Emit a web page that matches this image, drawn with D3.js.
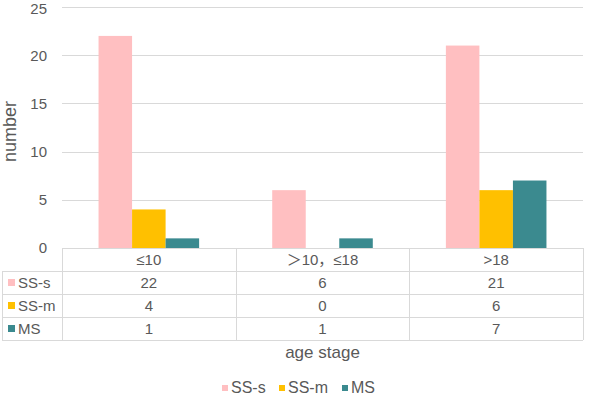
<!DOCTYPE html>
<html>
<head>
<meta charset="utf-8">
<script src="https://cdn.jsdelivr.net/npm/d3@7"></script>
<style>
  body { margin: 0; background: #fff; }
  text { font-family: "Liberation Sans", Arial, "Noto Sans CJK SC", sans-serif; fill: #595959; }
</style>
</head>
<body>
<script>
// Data
const categories = ["≤10", "＞10，≤18", ">18"]
const seriesNames = ["SS-s", "SS-m", "MS"]
const ssS = [22, 6, 21]
const ssM = [4, 0, 6]
const ms = [1, 1, 7]
const yTicks = [0, 5, 10, 15, 20, 25]
const colors = ["#FFBFC1", "#FFC000", "#3B8A8F"]

const seriesValues = [ssS, ssM, ms]

// Layout
const width = 597
const height = 396
const plotLeft = 62
const plotRight = 583
const plotTop = 7
const plotBottom = 248
const rowH = 23
const gridColor = "#d9d9d9"

let svg = d3.select("body").append("svg")
    .attr("width", width)
    .attr("height", height)

// Scales
let xScale = d3.scaleBand()
    .domain(categories)
    .range([plotLeft, plotRight])
let sub = d3.scaleBand()
    .domain(seriesNames)
    .range([0, xScale.bandwidth()])
    .paddingInner(0)
    .paddingOuter(1.09)
let yScale = d3.scaleLinear()
    .domain([0, 25])
    .range([plotBottom, plotTop])

// Gridlines
svg.append("g")
    .selectAll("line")
    .data(yTicks.filter(d => d > 0))
    .enter().append("line")
    .attr("x1", plotLeft).attr("x2", plotRight)
    .attr("y1", d => Math.round(yScale(d)) + 0.5).attr("y2", d => Math.round(yScale(d)) + 0.5)
    .attr("stroke", gridColor)
    .attr("stroke-width", 1)

// Y axis labels (top one kept inside the frame)
svg.append("g")
    .selectAll("text")
    .data(yTicks)
    .enter().append("text")
    .attr("x", 47)
    .attr("y", d => Math.max(yScale(d), 8.5))
    .attr("dy", "0.36em")
    .attr("text-anchor", "end")
    .style("font-size", "15px")
    .text(d => d)

svg.append("text")
    .attr("transform", `translate(10, ${(plotTop + plotBottom) / 2 + 4}) rotate(-90)`)
    .attr("text-anchor", "middle")
    .attr("dy", "0.35em")
    .style("font-size", "18px")
    .text("number")

// Bars
seriesNames.forEach((name, i) => {
    svg.append("g")
        .selectAll("rect")
        .data(seriesValues[i])
        .enter().append("rect")
        .attr("x", (d, j) => xScale(categories[j]) + sub(name))
        .attr("y", d => yScale(d))
        .attr("width", sub.bandwidth())
        .attr("height", d => plotBottom - yScale(d))
        .attr("fill", colors[i])
})

// Data table
const tableLeft = 2
const tableBottom = plotBottom + rowH * 4
let table = svg.append("g")

// horizontal lines
d3.range(5).forEach(r => {
    table.append("line")
        .attr("x1", r === 0 ? plotLeft : tableLeft).attr("x2", plotRight)
        .attr("y1", plotBottom + r * rowH + 0.5).attr("y2", plotBottom + r * rowH + 0.5)
        .attr("stroke", gridColor)
})
// vertical lines
table.append("line")
    .attr("x1", tableLeft + 0.5).attr("x2", tableLeft + 0.5)
    .attr("y1", plotBottom + rowH).attr("y2", tableBottom)
    .attr("stroke", gridColor)
categories.forEach(c => {
    table.append("line")
        .attr("x1", Math.round(xScale(c)) + 0.5).attr("x2", Math.round(xScale(c)) + 0.5)
        .attr("y1", plotBottom).attr("y2", tableBottom)
        .attr("stroke", gridColor)
})
table.append("line")
    .attr("x1", plotRight + 0.5).attr("x2", plotRight + 0.5)
    .attr("y1", plotBottom).attr("y2", tableBottom)
    .attr("stroke", gridColor)

// header row
table.selectAll(".head")
    .data(categories)
    .enter().append("text")
    .attr("class", "head")
    .attr("x", d => xScale(d) + xScale.bandwidth() / 2)
    .attr("y", plotBottom + rowH / 2)
    .attr("dy", "0.36em")
    .attr("text-anchor", "middle")
    .style("font-size", "15px")
    .text(d => d)

// value rows
seriesNames.forEach((name, i) => {
    const cy = plotBottom + rowH * (i + 1) + rowH / 2
    table.append("rect")
        .attr("x", 8).attr("y", cy - 3.5)
        .attr("width", 7).attr("height", 7)
        .attr("fill", colors[i])
    table.append("text")
        .attr("x", 18).attr("y", cy)
        .attr("dy", "0.36em")
        .style("font-size", "15px")
        .text(name)
    table.selectAll(".v" + i)
        .data(seriesValues[i])
        .enter().append("text")
        .attr("class", "v" + i)
        .attr("x", (d, j) => xScale(categories[j]) + xScale.bandwidth() / 2)
        .attr("y", cy)
        .attr("dy", "0.36em")
        .attr("text-anchor", "middle")
        .style("font-size", "15px")
        .text(d => d)
})

// X title
svg.append("text")
    .attr("x", (plotLeft + plotRight) / 2)
    .attr("y", 358)
    .attr("text-anchor", "middle")
    .style("font-size", "17px")
    .text("age stage")

// Legend
const legendX = [222, 279, 342]
seriesNames.forEach((name, i) => {
    svg.append("rect")
        .attr("x", legendX[i]).attr("y", 385)
        .attr("width", 6).attr("height", 6)
        .attr("fill", colors[i])
    svg.append("text")
        .attr("x", legendX[i] + 9).attr("y", 393)
        .style("font-size", "16px")
        .text(name)
})
</script>
</body>
</html>
